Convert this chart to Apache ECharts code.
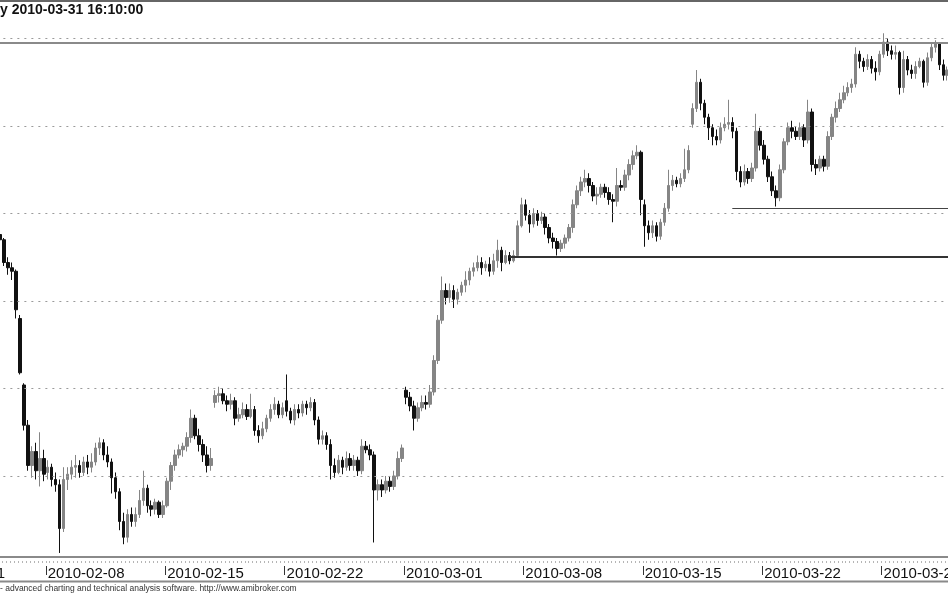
<!DOCTYPE html>
<html><head><meta charset="utf-8">
<script src="https://cdn.jsdelivr.net/npm/echarts@6/dist/echarts.min.js"></script>
<style>html,body{margin:0;padding:0;background:#fff}#c{width:948px;height:593px}</style>
</head><body><div id="c"></div><script>
const days = ['2010-02-01','2010-02-02','2010-02-03','2010-02-04','2010-02-05',
  '2010-02-08','2010-02-09','2010-02-10','2010-02-11','2010-02-12',
  '2010-02-15','2010-02-16','2010-02-17','2010-02-18','2010-02-19',
  '2010-02-22','2010-02-23','2010-02-24','2010-02-25','2010-02-26',
  '2010-03-01','2010-03-02','2010-03-03','2010-03-04','2010-03-05',
  '2010-03-08','2010-03-09','2010-03-10','2010-03-11','2010-03-12',
  '2010-03-15','2010-03-16','2010-03-17','2010-03-18','2010-03-19',
  '2010-03-22','2010-03-23','2010-03-24','2010-03-25','2010-03-26',
  '2010-03-29','2010-03-30','2010-03-31'];
const times = ['09:00','10:30','12:00','13:30','15:00','16:10'];
const firstDataDay = '2010-02-04';

const opens = [
2338,2335,2322,2319,2317,2290,2252,2229,2206,2214,2203,2210,
2202,2205,2198,2195,2170,2198,2201,2205,2206,2202,2208,2205,
2208,2216,2219,2212,2208,2199,2191,2174,2165,2178,2174,2178,
2186,2193,2183,2181,2185,2178,2183,2197,2206,2212,2215,2217,
2222,2233,2223,2218,2212,2206,2242,2246,2247,2243,2241,2243,
2233,2235,2238,2234,2238,2226,2223,2227,2233,2238,2241,2235,
2243,2237,2232,2238,2236,2241,2239,2242,2232,2221,2223,2218,
2206,2202,2209,2205,2210,2206,2209,2203,2217,2215,2212,2192,
2195,2192,2197,2194,2200,2210,2249,2245,2240,2233,2239,2242,
2241,2248,2266,2289,2306,2302,2306,2301,2305,2309,2312,2317,
2319,2322,2319,2321,2317,2323,2329,2322,2326,2323,2326,2343,
2355,2349,2344,2350,2346,2348,2342,2336,2334,2330,2333,2336,
2342,2355,2363,2368,2370,2366,2360,2361,2365,2362,2358,2357,
2366,2365,2372,2378,2383,2385,2355,2343,2339,2343,2337,2345,
2353,2366,2369,2367,2370,2375,2401,2410,2425,2413,2405,2399,
2394,2392,2399,2401,2402,2397,2374,2368,2374,2370,2376,2397,
2389,2381,2371,2363,2359,2375,2391,2399,2397,2394,2399,2392,
2408,2378,2376,2381,2377,2394,2405,2410,2415,2419,2422,2424,
2441,2437,2434,2438,2433,2431,2441,2448,2443,2441,2442,2422,
2438,2432,2430,2434,2437,2425,2439,2445,2447,2435,2429,2432];
const closes = [
2335,2322,2319,2317,2295,2259,2229,2206,2214,2203,2210,2201,
2205,2198,2195,2170,2198,2201,2205,2206,2202,2208,2205,2208,
2216,2219,2212,2208,2199,2191,2174,2165,2178,2174,2178,2186,
2193,2183,2181,2185,2178,2183,2197,2206,2212,2215,2217,2222,
2233,2223,2218,2212,2206,2210,2246,2247,2243,2241,2243,2233,
2235,2238,2234,2238,2226,2223,2227,2233,2238,2241,2235,2239,
2237,2232,2238,2236,2241,2239,2242,2232,2221,2223,2218,2206,
2202,2209,2205,2210,2206,2209,2203,2217,2215,2212,2192,2195,
2192,2197,2194,2200,2210,2216,2245,2240,2233,2239,2242,2241,
2248,2266,2289,2306,2302,2306,2301,2305,2309,2312,2317,2319,
2322,2319,2321,2317,2323,2329,2322,2326,2323,2326,2343,2355,
2349,2344,2350,2346,2348,2342,2336,2334,2330,2333,2336,2342,
2355,2363,2368,2370,2366,2360,2361,2365,2362,2358,2357,2366,
2365,2372,2378,2383,2385,2358,2343,2339,2343,2337,2345,2353,
2366,2369,2367,2370,2375,2386,2410,2425,2413,2405,2399,2394,
2392,2399,2401,2402,2397,2374,2368,2374,2370,2376,2397,2389,
2381,2371,2363,2359,2375,2391,2399,2397,2394,2399,2392,2408,
2378,2376,2381,2377,2394,2405,2410,2415,2419,2422,2424,2441,
2437,2434,2438,2433,2431,2441,2448,2443,2441,2442,2422,2438,
2432,2430,2434,2437,2425,2439,2445,2447,2435,2429,2432,2431];
const lows = [
2330,2320,2315,2312,2290,2258,2226,2203,2199,2198,2194,2197,
2198,2194,2191,2156,2168,2192,2198,2199,2199,2200,2201,2202,
2206,2212,2209,2205,2190,2187,2169,2161,2162,2171,2171,2176,
2183,2179,2177,2178,2176,2176,2182,2192,2203,2210,2211,2214,
2219,2221,2214,2208,2202,2203,2239,2242,2241,2237,2238,2229,
2231,2233,2232,2233,2223,2219,2221,2225,2231,2235,2233,2233,
2234,2230,2229,2233,2234,2235,2237,2229,2218,2218,2215,2198,
2199,2201,2201,2203,2203,2203,2200,2201,2213,2209,2162,2186,
2188,2190,2191,2192,2198,2208,2241,2237,2226,2231,2237,2238,
2239,2246,2264,2287,2298,2299,2296,2298,2303,2305,2309,2314,
2317,2315,2317,2314,2315,2319,2317,2321,2321,2322,2325,2342,
2346,2339,2342,2343,2344,2338,2333,2330,2326,2328,2330,2334,
2339,2353,2360,2365,2362,2357,2355,2359,2359,2355,2345,2354,
2363,2363,2369,2375,2381,2349,2331,2335,2336,2334,2335,2343,
2351,2363,2365,2365,2368,2373,2399,2408,2409,2401,2392,2389,
2389,2390,2397,2398,2393,2369,2365,2366,2367,2368,2374,2386,
2378,2368,2360,2354,2357,2373,2389,2393,2392,2392,2388,2390,
2374,2372,2374,2374,2375,2392,2402,2408,2413,2417,2419,2422,
2433,2431,2432,2430,2426,2429,2439,2440,2438,2438,2418,2419,
2429,2427,2427,2433,2422,2423,2437,2442,2432,2426,2426,2429];
const highs = [
2341,2336,2325,2322,2318,2292,2253,2232,2217,2219,2225,2215,
2209,2207,2202,2198,2205,2205,2209,2212,2209,2211,2212,2213,
2219,2222,2221,2217,2210,2202,2193,2179,2181,2182,2182,2192,
2203,2195,2186,2187,2186,2186,2199,2208,2215,2218,2219,2225,
2238,2235,2227,2221,2217,2216,2249,2251,2250,2246,2247,2245,
2239,2242,2241,2247,2240,2229,2231,2235,2241,2245,2243,2242,
2258,2239,2241,2241,2243,2243,2245,2244,2234,2226,2225,2221,
2210,2212,2211,2214,2213,2212,2211,2221,2220,2218,2214,2198,
2198,2200,2200,2203,2214,2218,2251,2248,2243,2242,2246,2246,
2252,2269,2292,2314,2310,2310,2309,2307,2311,2317,2319,2322,
2326,2325,2323,2325,2327,2335,2331,2329,2328,2329,2346,2359,
2358,2352,2353,2352,2351,2350,2344,2339,2336,2335,2338,2344,
2358,2366,2371,2375,2373,2368,2365,2367,2367,2365,2361,2376,
2369,2375,2381,2386,2389,2386,2358,2346,2346,2345,2347,2356,
2375,2372,2371,2373,2387,2389,2413,2432,2427,2415,2407,2401,
2398,2402,2405,2415,2405,2399,2377,2378,2376,2379,2407,2399,
2392,2383,2374,2366,2378,2393,2402,2403,2400,2402,2401,2415,
2410,2381,2383,2383,2397,2407,2414,2419,2423,2425,2427,2445,
2443,2439,2441,2440,2437,2443,2453,2450,2446,2446,2443,2443,
2440,2435,2437,2439,2438,2442,2447,2449,2448,2438,2434,2434];

const gridLevels = [2200, 2250, 2300, 2350, 2400, 2450];
const resistanceLevel = 2447.4;
const supportLevels = [
  { value: 2325.1, from: '2010-03-05 12:00', width: 2, color: '#333' },
  { value: 2353.1, from: '2010-03-18 15:00', width: 1, color: '#444' }
];
const titleText = 'y 2010-03-31 16:10:00';
const footerText = '- advanced charting and technical analysis software. http://www.amibroker.com';

const categories = [];
days.forEach(d => times.forEach(t => categories.push(d + ' ' + t)));
const pad = days.indexOf(firstDataDay) * times.length;
const candles = categories.map((c, i) => {
  const k = i - pad;
  return (k >= 0 && k < opens.length) ? [opens[k], closes[k], lows[k], highs[k]] : ['-', '-', '-', '-'];
});
const lastCat = categories[categories.length - 1];
const isWeekStart = (idx) => {
  if (idx % times.length !== 0) return false;
  const d = days[Math.floor(idx / times.length)];
  return new Date(d + 'T00:00:00Z').getUTCDay() === 1;
};

const FONT = '"Liberation Sans", Arial, sans-serif';
const nDays = days.length;
const dayPx = 23.88;
const gridLeft = -2 - (days.indexOf(firstDataDay)) * dayPx;

const markData = gridLevels.map(v => ({ yAxis: v, lineStyle: { type: [2, 5], color: '#9a9a9a', width: 1 } }));
markData.push({ yAxis: resistanceLevel, lineStyle: { type: 'solid', color: '#8a8a8a', width: 2 } });
supportLevels.forEach(s => {
  markData.push([
    { coord: [s.from, s.value], lineStyle: { type: 'solid', color: s.color, width: s.width } },
    { coord: [lastCat, s.value] }
  ]);
});

const chart = echarts.init(document.getElementById('c'), null, { renderer: 'canvas' });
chart.setOption({
  animation: false,
  backgroundColor: '#fff',
  grid: { left: gridLeft, width: nDays * dayPx, top: 3, height: 554, containLabel: false, outerBoundsMode: 'none' },
  xAxis: [
    { type: 'category', data: categories, boundaryGap: true,
      axisLine: { show: true, lineStyle: { color: '#8a8a8a', width: 2 } },
      axisTick: { show: false }, axisLabel: { show: false }, splitLine: { show: false } },
    { type: 'category', data: categories, boundaryGap: true, position: 'bottom', offset: 4,
      axisLine: { show: false },
      axisTick: { show: true, interval: 0, length: 2, lineStyle: { color: '#b5b5b5', width: 1 } },
      axisLabel: { show: false }, splitLine: { show: false } },
    { type: 'category', data: categories, boundaryGap: true, position: 'bottom', offset: 9,
      axisLine: { show: false },
      axisTick: { show: true, interval: (i) => isWeekStart(i), length: 9, lineStyle: { color: '#333', width: 1 } },
      axisLabel: { show: true, interval: (i) => isWeekStart(i), formatter: v => v.slice(0, 10),
        align: 'left', margin: 0, fontFamily: FONT, fontSize: 15, color: '#111', hideOverlap: false },
      splitLine: { show: false } }
  ],
  yAxis: { type: 'value', min: 2153.7, max: 2470.3, show: false, splitLine: { show: false } },
  series: [{
    type: 'candlestick',
    xAxisIndex: 0,
    data: candles,
    barWidth: 3,
    itemStyle: { color: '#858585', color0: '#111', borderColor: '#858585', borderColor0: '#111', borderWidth: 1 },
    markLine: { silent: true, symbol: ['none', 'none'], label: { show: false }, animation: false, data: markData }
  }],
  graphic: [
    { type: 'rect', shape: { x: 0, y: 0, width: 948, height: 2 }, style: { fill: '#666' } },
    { type: 'text', x: 0, y: 3, style: { text: titleText, font: 'bold 14px ' + FONT, fill: '#111' } },
    { type: 'rect', shape: { x: 0, y: 580.5, width: 948, height: 2 }, style: { fill: '#8a8a8a' } },
    { type: 'text', x: 0, y: 584, style: { text: footerText, font: '8.5px ' + FONT, fill: '#333' } }
  ]
});
</script></body></html>
